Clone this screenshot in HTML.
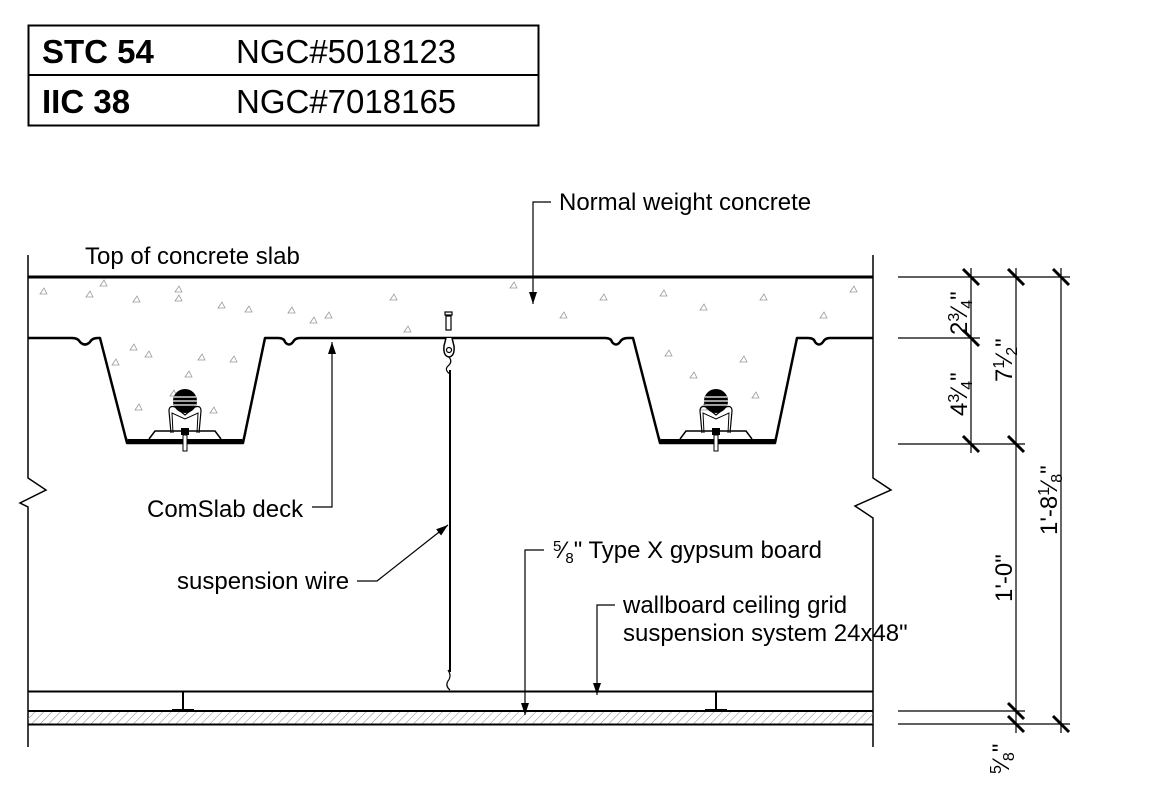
<!DOCTYPE html>
<html><head><meta charset="utf-8"><style>
html,body{margin:0;padding:0;background:#fff;}
svg{display:block;}
text{font-family:"Liberation Sans",Arial,sans-serif;fill:#000;}
</style></head><body>
<svg width="1149" height="785" viewBox="0 0 1149 785" xmlns="http://www.w3.org/2000/svg">
<defs>
<pattern id="hat" width="6" height="6" patternUnits="userSpaceOnUse" patternTransform="rotate(45)">
<line x1="0" y1="0" x2="0" y2="6" stroke="#888" stroke-width="1"/></pattern>
<marker id="ar" markerWidth="12" markerHeight="8" refX="12" refY="4" orient="auto" markerUnits="userSpaceOnUse">
<path d="M0,0 L12,4 L0,8 Z" fill="#000"/></marker>
<g id="tri"><path d="M0,0 l4,-6 l3,6 Z" fill="none" stroke="#999" stroke-width="0.8"/></g>
<g id="clip">
<circle cx="0" cy="0" r="12" fill="#000"/>
<line x1="-11" y1="-4" x2="11" y2="-4" stroke="#fff" stroke-width="1.2"/>
<line x1="-12" y1="0" x2="12" y2="0" stroke="#fff" stroke-width="1.2"/>
<line x1="-11" y1="4" x2="11" y2="4" stroke="#fff" stroke-width="1.2"/>
<path d="M-14,32 L-16,10 Q-16,4 -10,6 L0,14 L10,6 Q16,4 16,10 L14,32" fill="none" stroke="#000" stroke-width="1.2"/>
<path d="M-12,32 L-13,12 L0,18 L13,12 L12,32" fill="none" stroke="#000" stroke-width="1"/>
<path d="M-36,38 L-30,30 L30,30 L36,38" fill="none" stroke="#000" stroke-width="1.5"/>
<rect x="-4" y="27" width="8" height="7" fill="#000"/>
<rect x="-2" y="34" width="4" height="16" fill="#fff" stroke="#000" stroke-width="1"/>
</g>
</defs>

<!-- header table -->
<rect x="28.5" y="25.5" width="510" height="100" fill="none" stroke="#000" stroke-width="2"/>
<line x1="28" y1="75" x2="538" y2="75" stroke="#000" stroke-width="2"/>
<text x="42" y="63" font-size="33" font-weight="bold">STC 54</text>
<text x="236" y="63" font-size="33">NGC#5018123</text>
<text x="42" y="113" font-size="33" font-weight="bold">IIC 38</text>
<text x="236" y="113" font-size="33">NGC#7018165</text>

<g>
<use href="#tri" x="40" y="294"/><use href="#tri" x="86" y="297"/><use href="#tri" x="100" y="286"/><use href="#tri" x="133" y="302"/><use href="#tri" x="175" y="301"/><use href="#tri" x="175" y="292"/><use href="#tri" x="218" y="308"/><use href="#tri" x="245" y="312"/><use href="#tri" x="288" y="313"/><use href="#tri" x="310" y="323"/><use href="#tri" x="325" y="318"/><use href="#tri" x="390" y="300"/><use href="#tri" x="404" y="332"/><use href="#tri" x="130" y="350"/><use href="#tri" x="112" y="365"/><use href="#tri" x="145" y="357"/><use href="#tri" x="185" y="377"/><use href="#tri" x="170" y="396"/><use href="#tri" x="135" y="410"/><use href="#tri" x="210" y="413"/><use href="#tri" x="198" y="360"/><use href="#tri" x="230" y="362"/><use href="#tri" x="510" y="288"/><use href="#tri" x="560" y="318"/><use href="#tri" x="600" y="300"/><use href="#tri" x="660" y="296"/><use href="#tri" x="700" y="310"/><use href="#tri" x="760" y="300"/><use href="#tri" x="820" y="318"/><use href="#tri" x="850" y="292"/><use href="#tri" x="665" y="356"/><use href="#tri" x="690" y="378"/><use href="#tri" x="740" y="362"/><use href="#tri" x="700" y="410"/><use href="#tri" x="752" y="398"/>
</g>

<line x1="28" y1="277" x2="873" y2="277" stroke="#000" stroke-width="3"/>
<path d="M28,255 L28,478 L46,490 L20,503 L28,507 L28,747" fill="none" stroke="#000" stroke-width="1.5"/>
<path d="M873,255 L873,478 L891,490 L855,506 L873,518 L873,747" fill="none" stroke="#000" stroke-width="1.5"/>

<path d="M28,338 L72,338 Q78,338 80,342 Q85,347 90,342 Q92,338 98,338 L100,338 L127,443 L243,443 L265,338 L278,338 Q284,338 285,342 Q289,347 293,342 Q295,338 300,338 L605,338 Q611,338 612,342 Q616,347 620,342 Q622,338 628,338 L633,338 L660,443 L775,443 L797,338 L808,338 Q814,338 815,342 Q819,347 823,342 Q825,338 830,338 L873,338" fill="none" stroke="#000" stroke-width="2.5" stroke-linejoin="round"/>
<path d="M124,433 L129,443 M246,433 L241,443 M657,433 L662,443 M778,433 L773,443" stroke="#000" stroke-width="1"/>
<rect x="128" y="439" width="114" height="4" fill="#000"/>
<rect x="661" y="439" width="114" height="4" fill="#000"/>
<use href="#clip" x="185" y="401"/>
<use href="#clip" x="716" y="401"/>

<rect x="445" y="312" width="7" height="3" fill="#fff" stroke="#000" stroke-width="1.2"/>
<rect x="446" y="316" width="5" height="14" fill="#fff" stroke="#000" stroke-width="1.2"/>
<path d="M446,338 L444,346 Q443,356 449,357 Q455,356 454,346 L452,338" fill="#fff" stroke="#000" stroke-width="1.5"/>
<circle cx="449" cy="350" r="2.5" fill="none" stroke="#000" stroke-width="1.2"/>
<path d="M449,357 Q453,362 448,366 Q444,370 450,374" fill="none" stroke="#000" stroke-width="1.2"/>
<line x1="450" y1="370" x2="450" y2="672" stroke="#000" stroke-width="2"/>
<path d="M448,670 Q452,676 448,681 Q445,686 450,690" fill="none" stroke="#000" stroke-width="1.2"/>

<line x1="28" y1="691.5" x2="873" y2="691.5" stroke="#000" stroke-width="2"/>
<rect x="28" y="711" width="845" height="13" fill="url(#hat)"/>
<line x1="28" y1="711" x2="873" y2="711" stroke="#000" stroke-width="2"/>
<line x1="28" y1="724.5" x2="873" y2="724.5" stroke="#000" stroke-width="2"/>
<path d="M183,692 L183,710 M172,710 L194,710" stroke="#000" stroke-width="2"/>
<path d="M716,692 L716,710 M705,710 L727,710" stroke="#000" stroke-width="2"/>

<g font-size="24">
<text x="85" y="264">Top of concrete slab</text>
<text x="559" y="210">Normal weight concrete</text>
<text x="147" y="517">ComSlab deck</text>
<text x="177" y="589">suspension wire</text>
<text x="553" y="558"><tspan font-size="15" dy="-7">5</tspan><tspan dy="7">⁄</tspan><tspan font-size="15" dy="5">8</tspan><tspan dy="-5">" Type X gypsum board</tspan></text>
<text x="623" y="613">wallboard ceiling grid</text>
<text x="623" y="641">suspension system 24x48"</text>
</g>
<path d="M551,202 L533,202 L533,304" fill="none" stroke="#000" stroke-width="1.2" marker-end="url(#ar)"/>
<path d="M312,507 L332,507 L332,342" fill="none" stroke="#000" stroke-width="1.2" marker-end="url(#ar)"/>
<path d="M357,581 L377,581 L448,525" fill="none" stroke="#000" stroke-width="1.2" marker-end="url(#ar)"/>
<path d="M544,550 L525,550 L525,715" fill="none" stroke="#000" stroke-width="1.2" marker-end="url(#ar)"/>
<path d="M615,605 L597,605 L597,695" fill="none" stroke="#000" stroke-width="1.2" marker-end="url(#ar)"/>

<g stroke="#000" stroke-width="1.2">
<line x1="898" y1="277" x2="1070" y2="277"/>
<line x1="898" y1="338" x2="980" y2="338"/>
<line x1="898" y1="444" x2="1025" y2="444"/>
<line x1="898" y1="711" x2="1025" y2="711"/>
<line x1="898" y1="724" x2="1070" y2="724"/>
<line x1="971" y1="268" x2="971" y2="453"/>
<line x1="1016" y1="268" x2="1016" y2="733"/>
<line x1="1061" y1="268" x2="1061" y2="733"/>
</g>
<g stroke="#000" stroke-width="3">
<line x1="963" y1="269" x2="979" y2="285"/><line x1="963" y1="330" x2="979" y2="346"/><line x1="963" y1="436" x2="979" y2="452"/>
<line x1="1008" y1="269" x2="1024" y2="285"/><line x1="1008" y1="436" x2="1024" y2="452"/><line x1="1008" y1="703" x2="1024" y2="719"/><line x1="1008" y1="716" x2="1024" y2="732"/>
<line x1="1053" y1="269" x2="1069" y2="285"/><line x1="1053" y1="716" x2="1069" y2="732"/>
</g>
<g font-size="24">
<text transform="translate(967,335) rotate(-90)">2<tspan font-size="16" dy="-8">3</tspan><tspan dy="8">⁄</tspan><tspan font-size="16" dy="5">4</tspan><tspan dy="-5">"</tspan></text>
<text transform="translate(967,416) rotate(-90)">4<tspan font-size="16" dy="-8">3</tspan><tspan dy="8">⁄</tspan><tspan font-size="16" dy="5">4</tspan><tspan dy="-5">"</tspan></text>
<text transform="translate(1012,382) rotate(-90)">7<tspan font-size="16" dy="-8">1</tspan><tspan dy="8">⁄</tspan><tspan font-size="16" dy="5">2</tspan><tspan dy="-5">"</tspan></text>
<text transform="translate(1012,602) rotate(-90)">1'-0"</text>
<text transform="translate(1057,535) rotate(-90)">1'-8<tspan font-size="16" dy="-8">1</tspan><tspan dy="8">⁄</tspan><tspan font-size="16" dy="5">8</tspan><tspan dy="-5">"</tspan></text>
<text transform="translate(1009,774) rotate(-90)"><tspan font-size="16" dy="-8">5</tspan><tspan dy="8">⁄</tspan><tspan font-size="16" dy="5">8</tspan><tspan dy="-5">"</tspan></text>
</g>
</svg>
</body></html>
